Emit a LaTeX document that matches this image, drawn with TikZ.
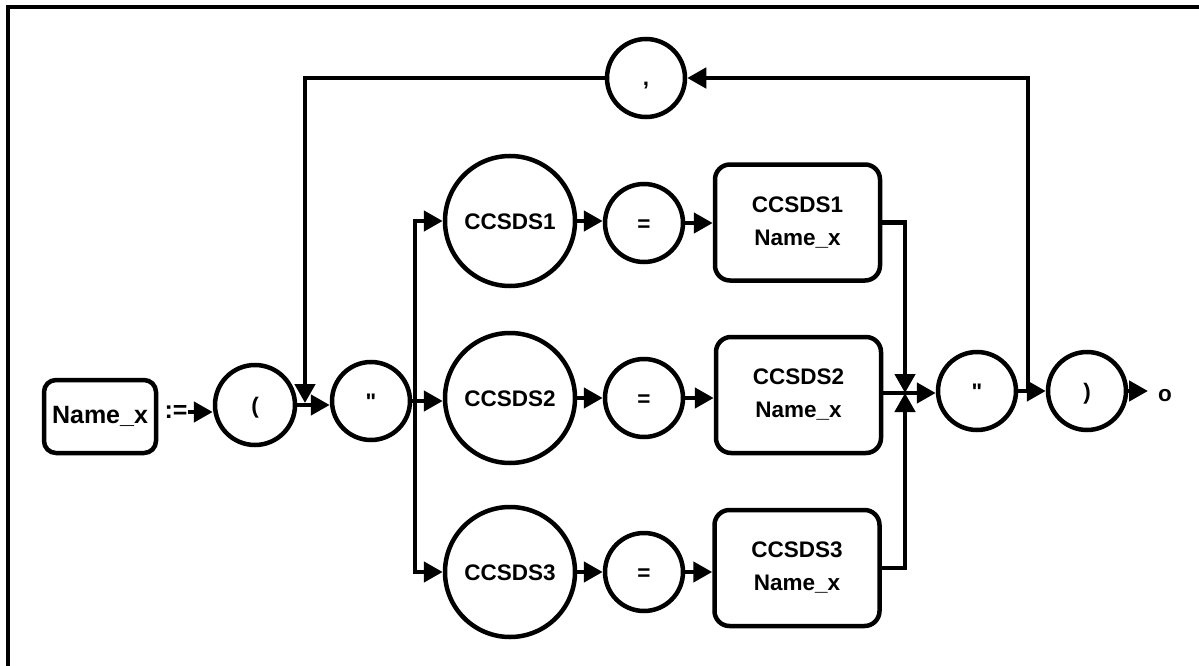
\documentclass[tikz,border=0pt]{standalone}
\usepackage{fontspec}
\setmainfont{Liberation Sans}[Ligatures=TeXOff]
\usetikzlibrary{arrows.meta}
\begin{document}
\begin{tikzpicture}[x=1pt,y=-1pt,
  lw/.style={line width=4.5pt},
  arr/.style={lw,-{Triangle[length=19pt,width=20pt]}},
  circ/.style={circle,draw,lw,minimum size=78pt,inner sep=0pt,
    font=\bfseries\fontsize{22.5}{27}\selectfont,text height=16pt,text depth=0pt},
  bigcirc/.style={circ,minimum size=130pt},
  namebox/.style={draw,lw,rounded corners=15pt,minimum width=165pt,minimum height=116pt,
    inner sep=0pt,align=center,font=\bfseries\fontsize{22.5}{33}\selectfont},
  plain/.style={inner sep=0pt,font=\bfseries\fontsize{22.5}{27}\selectfont}
]
\useasboundingbox (0,0) rectangle (1199,666);
\draw[line width=3.5pt] (8,666) -- (8,7) -- (1199,7);

% nodes
\node[draw,lw,rounded corners=12pt,minimum width=112pt,minimum height=73pt,inner sep=0pt,
  font=\bfseries\fontsize{25}{30}\selectfont] (nm) at (100,416.5) {Name\_x};
\node[inner sep=0pt,font=\bfseries\fontsize{25}{30}\selectfont] (as) at (176,412) {:=};
\node[circ,minimum size=80pt] (lp) at (255,405) {(};
\node[circ] (q1) at (371,401) {"};
\node[circ] (comma) at (646,78) {,};

\node[bigcirc] (c1) at (510,221) {CCSDS1};
\node[bigcirc] (c2) at (510,398) {CCSDS2};
\node[bigcirc] (c3) at (510,572) {CCSDS3};

\node[circ] (e1) at (644,223) {=};
\node[circ] (e2) at (644,398) {=};
\node[circ] (e3) at (644,572) {=};

\node[namebox] (b1) at (797.5,222.5) {CCSDS1\\Name\_x};
\node[namebox] (b2) at (798.5,395) {CCSDS2\\Name\_x};
\node[namebox] (b3) at (797,568) {CCSDS3\\Name\_x};

\node[circ] (q2) at (977,391) {"};
\node[circ] (rp) at (1087,391) {)};
\node[plain,text height=11.7pt,text depth=0pt] (o) at (1165,396) {o};

% coordinates
\coordinate (jl) at (305,403);
\coordinate (bx) at (415,401);
\coordinate (jr) at (905,393);
\coordinate (jt) at (1028,391);
\coordinate (oend) at (1148,391);

% connectors
\draw[arr] (as.east) -- (as.east -| lp.west);
\draw[arr] (lp.east) -- (lp.east -| q1.west);
\draw[arr] (comma.west) -| (jl);
\draw[lw] (q1.east) -- (bx);
\draw[arr] (bx) |- (c1.west);
\draw[arr] (bx) |- (c3.west);
\draw[arr] (bx) -- (bx -| c2.west);

\draw[arr] (c1.east) -- (c1.east -| e1.west);
\draw[arr] (c2.east) -- (c2.east -| e2.west);
\draw[arr] (c3.east) -- (c3.east -| e3.west);
\draw[arr] (e1.east) -- (e1.east -| b1.west);
\draw[arr] (e2.east) -- (e2.east -| b2.west);
\draw[arr] (e3.east) -- (e3.east -| b3.west);

\draw[arr] (b1.east) -| (jr);
\draw[arr] (b3.east) -| (jr);
\draw[arr] (b2.east |- jr) -- (jr -| q2.west);
\draw[arr] (q2.east) -- (rp.west);
\draw[arr] (jt) |- (comma.east);
\draw[arr] (rp.east) -- (oend);
\end{tikzpicture}
\end{document}
